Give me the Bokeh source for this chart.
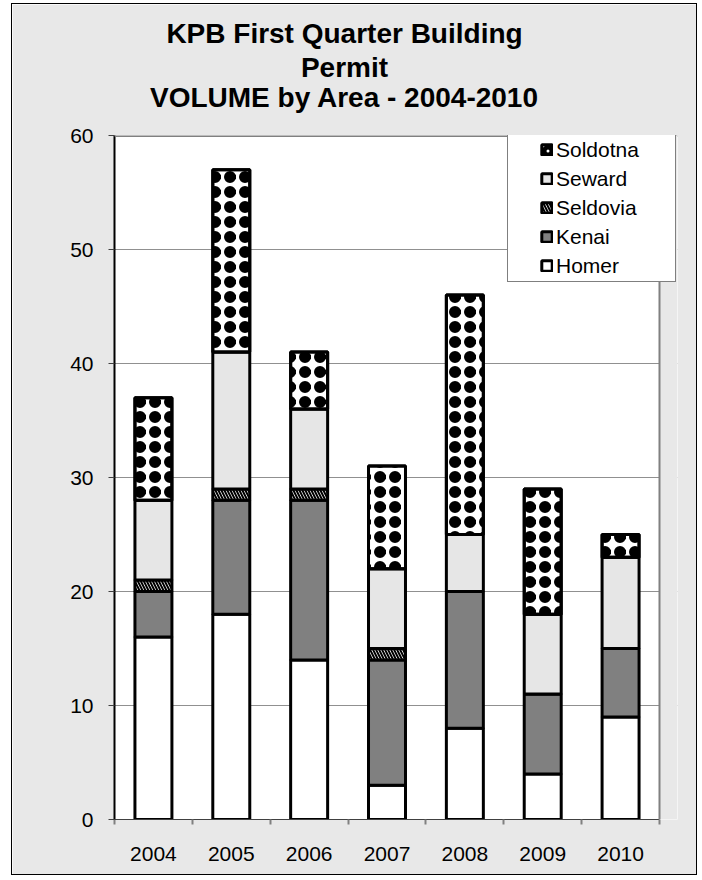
from bokeh.plotting import figure
from bokeh.models import (ColumnDataSource, Range1d, FixedTicker, Legend, LegendItem,
                          LinearAxis, Span, BoxAnnotation)
from bokeh.transform import stack
from bokeh.embed import file_html
from bokeh.resources import INLINE

# ---- data ----
years = ["2004", "2005", "2006", "2007", "2008", "2009", "2010"]
homer = [16, 18, 14, 3, 8, 4, 9]
kenai = [4, 10, 14, 11, 12, 7, 6]
seldovia = [1, 1, 1, 1, 0, 0, 0]
seward = [7, 12, 7, 7, 5, 7, 8]
soldotna = [9, 16, 5, 9, 21, 11, 2]
series = ["Homer", "Kenai", "Seldovia", "Seward", "Soldotna"]
y_ticks = [0, 10, 20, 30, 40, 50, 60]
title_lines = ["KPB First Quarter Building", "Permit", "VOLUME by Area - 2004-2010"]

xs = list(range(len(years)))
source = ColumnDataSource(dict(x=xs, Homer=homer, Kenai=kenai, Seldovia=seldovia,
                               Seward=seward, Soldotna=soldotna))

FONT = "Liberation Sans"
BG = "#e8e8e8"

# plot area is 545px wide for the 7 categories; frame is extended 18px to the right
# so the legend can overhang the plot area like in the original
n = len(years)
px_per_cat = 545 / n
x_end = (n - 0.5) + 18 / px_per_cat

p = figure(width=686, height=872, output_backend="svg", toolbar_location=None,
           x_range=Range1d(-0.5, x_end), y_range=Range1d(0, 60),
           min_border_left=102, min_border_right=21, min_border_top=131, min_border_bottom=57,
           background_fill_color="white", border_fill_color=BG,
           styles={"border": "1px solid black", "margin": "3px 0 0 11px"})

# title: one centred line per (invisible) top axis; the first added sits nearest the frame
title_center = (344 - 102 - 12) / px_per_cat - 0.5   # chart-centre of the title, in x units
title_standoffs = [23, -4, 0]
for line, so in zip(title_lines[::-1], title_standoffs):
    ax = LinearAxis(ticker=FixedTicker(ticks=[title_center], minor_ticks=[]),
                    major_label_overrides={title_center: line},
                    axis_line_color=None, major_tick_line_color=None, minor_tick_line_color=None,
                    major_tick_out=0, major_tick_in=0, minor_tick_out=0, minor_tick_in=0,
                    major_label_standoff=so,
                    major_label_text_font=FONT, major_label_text_font_size="28px",
                    major_label_text_font_style="bold", major_label_text_color="black")
    p.add_layout(ax, "above")

fills = ["white", "#808080", "white", "#e6e6e6", "white"]
hatches = [None, None, "left_diagonal_line", None, "ring"]
hscale = [12, 12, 6, 12, 15]
hweight = [1, 1, 2, 1, 4.5]
BAR_W = 0.475

rs = p.vbar_stack(series, x="x", width=BAR_W, source=source,
                  fill_color=fills, line_color="black", line_width=3,
                  hatch_pattern=hatches, hatch_color="black",
                  hatch_scale=hscale, hatch_weight=hweight)

# fill the centres of the Soldotna ring pattern so it reads as solid black spots
p.vbar(x="x", width=BAR_W, source=source,
       bottom=stack(*series[:-1]), top=stack(*series),
       fill_alpha=0, line_color=None,
       hatch_pattern="dot", hatch_scale=15, hatch_color="black")
p.vbar(x="x", width=BAR_W, source=source,
       bottom=stack(*series[:-1]), top=stack(*series),
       fill_alpha=0, line_color="black", line_width=3)

# bottom axis: labels at category centres, ticks at category boundaries
xax = p.below[0]
xax.ticker = FixedTicker(ticks=xs, minor_ticks=[i - 0.5 for i in range(n + 1)])
xax.major_label_overrides = {i: y for i, y in enumerate(years)}
xax.bounds = (-0.5, n - 0.5)
xax.major_tick_line_color = None
xax.major_tick_out = 0
xax.major_tick_in = 0
xax.minor_tick_out = 5
xax.minor_tick_in = 0
xax.minor_tick_line_color = "#808080"
xax.minor_tick_line_width = 2
xax.axis_line_color = "#404040"
xax.axis_line_width = 1
xax.major_label_standoff = 22

yax = p.left[0]
yax.ticker = FixedTicker(ticks=y_ticks)
yax.major_tick_out = 6
yax.major_tick_in = 0
yax.major_tick_line_color = "#404040"
yax.minor_tick_line_color = None
yax.axis_line_color = "black"
yax.axis_line_width = 2
yax.major_label_standoff = 15

for ax in (xax, yax):
    ax.major_label_text_font = FONT
    ax.major_label_text_font_size = "21px"
    ax.major_label_text_color = "black"

p.xgrid.grid_line_color = None
p.ygrid.grid_line_color = "#909090"
p.ygrid.grid_line_width = 1
p.outline_line_color = None

# plot-area border (gray) and the strip right of the plot area
p.add_layout(Span(location=60, dimension="width", line_color="#808080", line_width=3))
p.add_layout(BoxAnnotation(left=n - 0.5, fill_color=BG, fill_alpha=1.0, line_color=None))
p.add_layout(Span(location=n - 0.5, dimension="height", line_color="#808080", line_width=2))

items = [LegendItem(label=name, renderers=[r]) for name, r in zip(series, rs)][::-1]
legend = Legend(items=items, location=(393, 537), padding=3, spacing=4,
                label_height=25, glyph_height=13, glyph_width=13, label_standoff=3,
                label_width=116, title=" ", title_location="left", title_text_font_size="1px",
                title_standoff=28,
                label_text_font=FONT, label_text_font_size="21px", label_text_color="black",
                border_line_color="black", border_line_width=1,
                background_fill_color="white", background_fill_alpha=1.0)
p.add_layout(legend, "center")

open("out.html", "w").write(file_html(p, INLINE))
